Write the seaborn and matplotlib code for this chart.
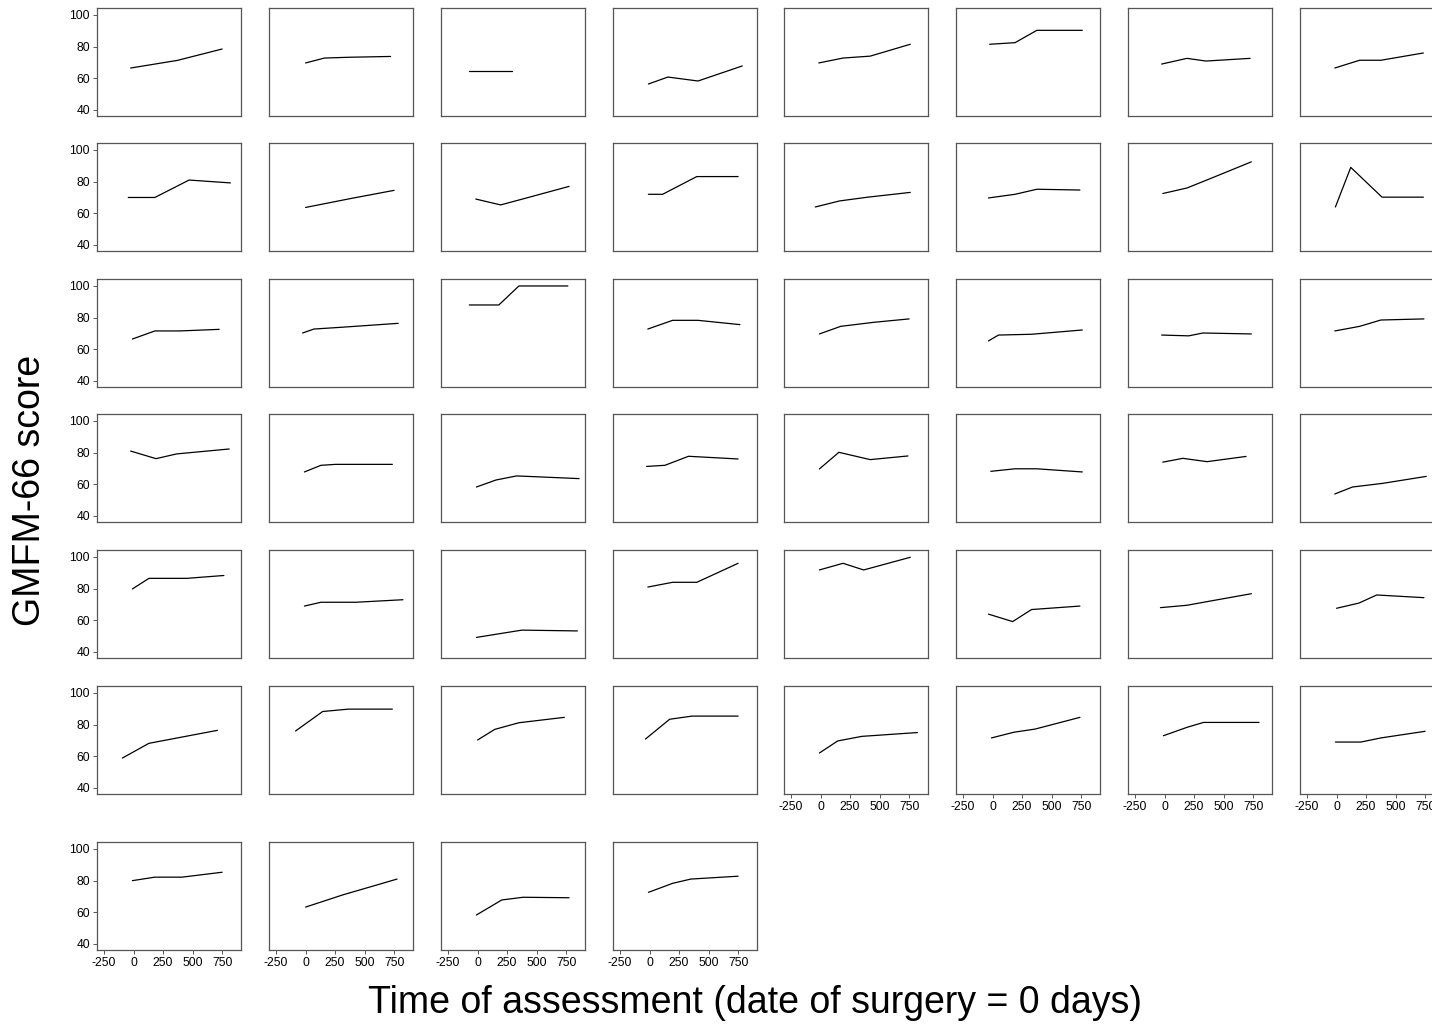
import numpy as np
import pandas as pd
import seaborn as sns
import matplotlib
matplotlib.use("Agg")
import matplotlib.pyplot as plt

# days since surgery, one list per child (panel order: row by row)
days = [
    [-25, 370, 750], [0, 160, 370, 720], [-70, 290], [-10, 155, 410, 785],
    [-15, 190, 420, 760], [-25, 190, 375, 760], [-25, 190, 350, 725], [-15, 195, 375, 735],
    [-45, 180, 470, 820], [0, 380, 750], [-15, 195, 410, 775], [-10, 110, 400, 750],
    [-45, 160, 400, 760], [-35, 190, 375, 740], [-15, 190, 390, 735], [-10, 120, 385, 735],
    [-10, 180, 390, 725], [-25, 70, 300, 785], [-70, 180, 350, 765], [-15, 195, 410, 765],
    [-10, 170, 445, 750], [-35, 50, 330, 760], [-25, 205, 325, 735], [-15, 195, 375, 740],
    [-25, 190, 365, 810], [-10, 130, 255, 735], [-10, 155, 330, 860], [-25, 130, 330, 750],
    [-10, 155, 420, 740], [-15, 190, 375, 760], [-15, 155, 360, 690], [-15, 135, 390, 760],
    [-10, 130, 450, 765], [-10, 130, 425, 825], [-10, 375, 845], [-15, 195, 400, 750],
    [-10, 190, 365, 760], [-35, 170, 330, 740], [-35, 190, 375, 735], [0, 190, 340, 740],
    [-95, 130, 710], [-85, 145, 365, 735], [0, 145, 350, 735], [-35, 170, 360, 750],
    [-10, 145, 350, 820], [-10, 180, 360, 740], [-10, 190, 330, 800], [-10, 205, 375, 750],
    [-10, 180, 410, 750], [0, 315, 775], [-10, 205, 385, 775], [-10, 195, 350, 750],
]

# GMFM-66 scores matching the days above
scores = [
    [66.5, 71.3, 78.5], [69.7, 72.8, 73.3, 73.8], [64.6, 64.6], [56.4, 60.8, 58.3, 67.8],
    [69.7, 72.8, 74.0, 81.5], [81.5, 82.5, 90.3, 90.3], [69.0, 72.6, 70.9, 72.6], [66.5, 71.4, 71.4, 76.0],
    [70.0, 70.0, 81.0, 79.2], [63.7, 69.3, 74.5], [69.0, 65.3, 69.6, 77.0], [72.0, 72.0, 83.2, 83.2],
    [64.0, 67.8, 70.2, 73.2], [69.7, 72.0, 75.2, 74.7], [72.5, 76.0, 82.0, 92.5], [64.0, 89.0, 70.2, 70.2],
    [66.5, 71.6, 71.6, 72.6], [70.3, 72.8, 73.9, 76.4], [88.0, 88.0, 100.0, 100.0], [72.8, 78.3, 78.3, 75.6],
    [69.7, 74.5, 77.0, 79.2], [65.3, 69.0, 69.5, 72.2], [69.0, 68.5, 70.3, 69.7], [71.6, 74.5, 78.5, 79.2],
    [81.0, 76.2, 79.2, 82.3], [67.8, 72.0, 72.6, 72.6], [58.3, 62.7, 65.3, 63.6], [71.3, 72.0, 77.7, 76.0],
    [69.7, 80.2, 75.6, 77.9], [68.2, 69.8, 69.8, 67.8], [74.0, 76.4, 74.3, 77.6], [53.9, 58.3, 60.6, 65.0],
    [79.8, 86.5, 86.5, 88.3], [69.0, 71.4, 71.4, 73.0], [49.2, 53.8, 53.3], [81.0, 84.0, 84.0, 96.0],
    [91.8, 96.0, 91.8, 99.8], [63.9, 59.2, 66.8, 69.0], [68.0, 69.5, 72.0, 76.8], [67.6, 70.9, 76.0, 74.3],
    [58.9, 68.2, 76.4], [76.0, 88.3, 89.8, 89.8], [70.3, 77.0, 81.2, 84.6], [70.9, 83.4, 85.4, 85.4],
    [62.1, 69.7, 72.6, 75.0], [71.6, 75.2, 77.2, 84.6], [73.0, 78.3, 81.4, 81.4], [69.0, 69.0, 71.6, 75.8],
    [80.0, 82.2, 82.2, 85.3], [63.3, 71.0, 81.0], [58.3, 67.8, 69.5, 69.2], [72.6, 78.3, 81.0, 82.8],
]

df = pd.DataFrame({
    "child": [i for i, d in enumerate(days) for _ in d],
    "day": [t for d in days for t in d],
    "gmfm": [s for sc in scores for s in sc],
})

sns.set_style("white")
plt.rcParams["font.family"] = ["Liberation Sans", "DejaVu Sans"]
plt.rcParams["axes.unicode_minus"] = False

fig = plt.figure(figsize=(14.32, 10.28), dpi=100)
W, H = 1432.0, 1028.0

col_left = [97, 269, 441, 613, 784, 956, 1128, 1300]
row_top = [8, 143, 279, 414, 550, 686, 842]
pw, ph = 144, 108

n_cols = 8
for i in range(len(days)):
    r, c = divmod(i, n_cols)
    ax = fig.add_axes([col_left[c] / W, 1 - (row_top[r] + ph) / H, pw / W, ph / H])
    sns.lineplot(data=df[df.child == i], x="day", y="gmfm", ax=ax,
                 color="black", linewidth=0.9, estimator=None, sort=False)
    ax.set_xlim(-310, 910)
    ax.set_ylim(36.2, 104.4)
    ax.set_xlabel("")
    ax.set_ylabel("")
    for sp in ax.spines.values():
        sp.set_color("#555555")
        sp.set_linewidth(0.9)
    ax.set_yticks([40, 60, 80, 100])
    ax.set_xticks([-250, 0, 250, 500, 750])
    ax.tick_params(length=3, width=0.7, color="#555555", labelsize=8.7,
                   labelcolor="black", pad=2)
    show_y = (c == 0)
    show_x = (r == 6) or (r == 5 and c >= 4)
    ax.tick_params(axis="y", left=show_y, labelleft=show_y)
    ax.tick_params(axis="x", bottom=show_x, labelbottom=show_x)

fig.text(30 / W, 1 - 490 / H, "GMFM-66 score", rotation=90, fontsize=27,
         ha="center", va="center", color="black")
fig.text(755 / W, 1 - 1003 / H, "Time of assessment (date of surgery = 0 days)",
         fontsize=27, ha="center", va="center", color="black")

fig.savefig("out.png", dpi=100)
